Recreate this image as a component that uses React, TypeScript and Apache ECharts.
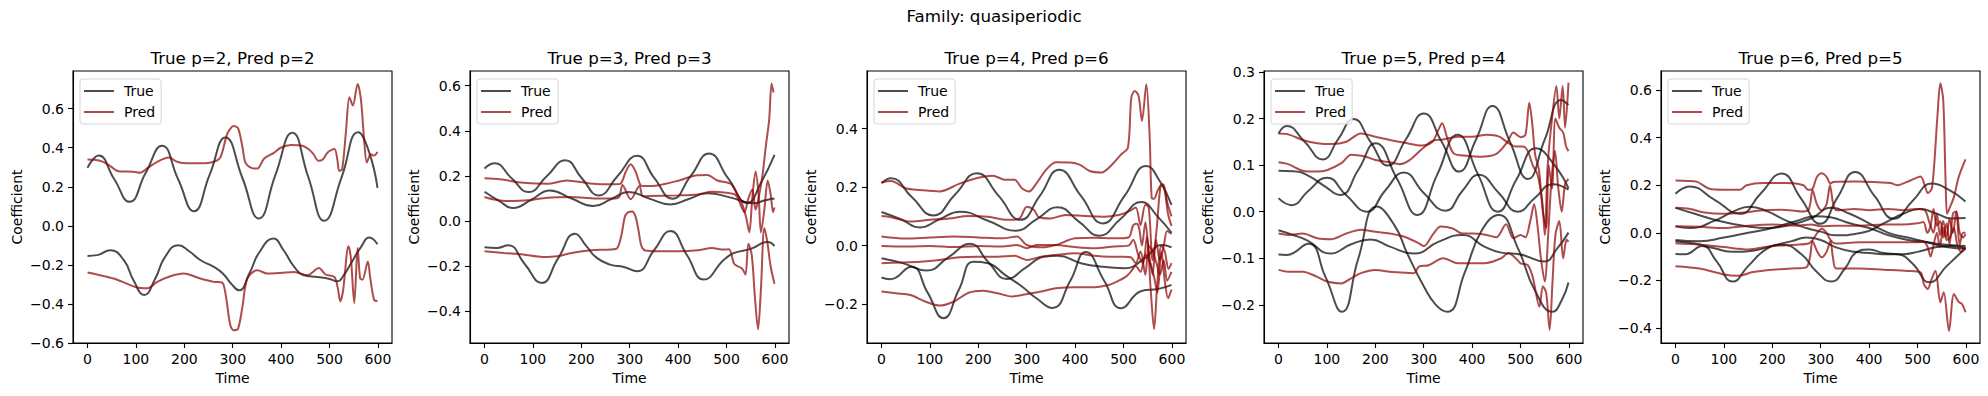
import React, { useEffect, useRef } from 'react';
import * as echarts from 'echarts';

// ---------------- data (time, coefficient) ----------------
const p1True1 = [[0,0.297],[23,0.36],[55,0.24],[87,0.123],[120,0.27],[154,0.41],[187,0.24],[220,0.075],[252,0.26],[285,0.453],[320,0.245],[354,0.038],[388,0.26],[423,0.477],[456,0.25],[489,0.026],[525,0.25],[559,0.479],[580,0.39],[599,0.195]];
const p1True2 = [[0,-0.154],[20,-0.15],[47,-0.125],[75,-0.176],[95,-0.279],[117,-0.354],[140,-0.27],[160,-0.16],[188,-0.099],[210,-0.13],[233,-0.175],[261,-0.21],[280,-0.245],[298,-0.3],[313,-0.33],[335,-0.24],[355,-0.135],[384,-0.065],[405,-0.125],[427,-0.21],[447,-0.253],[475,-0.262],[500,-0.272],[516,-0.284],[530,-0.25],[544,-0.193],[565,-0.108],[582,-0.06],[599,-0.094]];
const p1Pred1 = [[0,0.34],[15,0.338],[30,0.33],[45,0.31],[64,0.28],[95,0.277],[109,0.272],[123,0.294],[144,0.328],[168,0.35],[185,0.328],[206,0.32],[233,0.32],[261,0.328],[275,0.354],[289,0.473],[302,0.511],[311,0.5],[320,0.405],[327,0.32],[344,0.294],[351,0.294],[365,0.345],[385,0.374],[399,0.4],[420,0.414],[444,0.41],[458,0.39],[466,0.37],[477,0.333],[486,0.34],[496,0.376],[510,0.393],[516,0.34],[520,0.281],[526,0.29],[534,0.487],[541,0.658],[548,0.616],[558,0.727],[565,0.641],[572,0.419],[577,0.324],[585,0.367],[592,0.36],[599,0.378]];
const p1Pred2 = [[0,-0.239],[26,-0.253],[54,-0.27],[81,-0.296],[102,-0.316],[123,-0.32],[144,-0.287],[171,-0.258],[199,-0.244],[233,-0.27],[261,-0.287],[278,-0.29],[285,-0.347],[295,-0.509],[302,-0.535],[311,-0.526],[320,-0.415],[330,-0.27],[351,-0.227],[371,-0.244],[399,-0.241],[427,-0.236],[454,-0.253],[478,-0.216],[492,-0.25],[510,-0.262],[517,-0.319],[522,-0.387],[528,-0.33],[539,-0.104],[544,-0.164],[551,-0.396],[558,-0.113],[563,-0.267],[568,-0.276],[579,-0.182],[584,-0.267],[592,-0.379],[599,-0.385]];

const p2True1 = [[0,0.233],[21,0.256],[56,0.19],[91,0.129],[129,0.2],[167,0.27],[201,0.19],[236,0.114],[275,0.2],[315,0.289],[351,0.19],[388,0.099],[426,0.2],[464,0.3],[503,0.19],[543,0.081],[571,0.17],[599,0.293]];
const p2True2 = [[0,0.13],[30,0.09],[59,0.058],[97,0.095],[135,0.136],[180,0.1],[225,0.067],[262,0.098],[298,0.129],[340,0.1],[384,0.074],[422,0.098],[460,0.123],[509,0.104],[554,0.079],[580,0.092],[599,0.1]];
const p2True3 = [[0,-0.116],[25,-0.119],[49,-0.107],[83,-0.19],[118,-0.274],[152,-0.165],[187,-0.056],[210,-0.11],[232,-0.163],[260,-0.193],[288,-0.203],[315,-0.222],[350,-0.13],[384,-0.044],[418,-0.15],[453,-0.259],[495,-0.17],[516,-0.141],[550,-0.123],[585,-0.093],[599,-0.111]];
const p2Pred1 = [[0,0.19],[32,0.185],[80,0.17],[129,0.165],[170,0.18],[218,0.167],[260,0.163],[280,0.165],[292,0.22],[302,0.252],[312,0.22],[322,0.16],[330,0.155],[357,0.158],[398,0.178],[440,0.203],[460,0.204],[481,0.18],[509,0.165],[522,0.12],[530,0.09],[540,0.02],[547,-0.05],[553,0.1],[560,0.22],[566,0.12],[571,-0.05],[578,0.05],[585,0.18],[591,0.12],[596,0.04],[599,0.06]];
const p2Pred2 = [[0,0.107],[20,0.096],[50,0.089],[90,0.092],[130,0.104],[180,0.107],[230,0.1],[270,0.1],[279,0.11],[285,0.16],[302,0.097],[320,0.155],[327,0.11],[340,0.111],[400,0.114],[440,0.118],[470,0.13],[500,0.126],[515,0.12],[522,0.107],[537,0.04],[545,0.1],[553,0.14],[560,0.05],[566,0.1],[574,0.2],[581,0.33],[588,0.45],[593,0.61],[597,0.57]];
const p2Pred3 = [[0,-0.133],[40,-0.141],[80,-0.148],[120,-0.159],[150,-0.156],[180,-0.141],[220,-0.129],[260,-0.126],[274,-0.12],[283,-0.06],[290,0.02],[297,0.04],[305,0.043],[312,0.02],[318,-0.04],[324,-0.11],[332,-0.13],[360,-0.133],[400,-0.133],[440,-0.129],[470,-0.119],[490,-0.126],[505,-0.125],[516,-0.19],[532,-0.21],[539,-0.237],[545,-0.1],[552,-0.15],[559,-0.35],[565,-0.48],[571,-0.3],[578,-0.03],[584,-0.09],[591,-0.2],[599,-0.278]];

const p3True1 = [[0,0.213],[20,0.23],[63,0.165],[107,0.103],[152,0.175],[197,0.247],[242,0.17],[287,0.088],[327,0.17],[367,0.259],[412,0.17],[457,0.076],[502,0.17],[547,0.272],[575,0.22],[599,0.139]];
const p3True2 = [[0,0.115],[40,0.09],[79,0.062],[120,0.09],[162,0.116],[220,0.085],[277,0.051],[320,0.09],[364,0.131],[407,0.083],[450,0.034],[493,0.09],[537,0.149],[570,0.1],[599,0.044]];
const p3True3 = [[0,-0.043],[44,-0.06],[93,-0.085],[138,-0.04],[183,0.006],[220,-0.055],[259,-0.114],[298,-0.075],[336,-0.038],[364,-0.035],[412,-0.06],[454,-0.072],[502,-0.077],[544,-0.043],[579,0.002],[599,-0.006]];
const p3True4 = [[0,-0.109],[17,-0.115],[62,-0.072],[95,-0.16],[128,-0.248],[160,-0.15],[190,-0.055],[220,-0.06],[255,-0.1],[290,-0.14],[320,-0.18],[353,-0.213],[390,-0.12],[422,-0.022],[460,-0.12],[495,-0.214],[537,-0.155],[572,-0.148],[599,-0.134]];
const p3Pred1 = [[0,0.217],[20,0.221],[50,0.196],[80,0.19],[120,0.185],[160,0.211],[200,0.232],[230,0.239],[255,0.225],[275,0.225],[290,0.196],[305,0.185],[320,0.213],[340,0.259],[360,0.285],[390,0.284],[410,0.276],[430,0.255],[455,0.25],[475,0.275],[495,0.312],[509,0.335],[516,0.506],[523,0.529],[531,0.512],[538,0.426],[547,0.552],[554,0.369],[558,0.164],[563,0.16],[570,0.187],[579,0.21],[585,0.187],[592,0.107],[599,0.067]];
const p3Pred2 = [[0,0.101],[20,0.097],[60,0.082],[100,0.088],[140,0.093],[180,0.101],[220,0.099],[260,0.088],[285,0.093],[300,0.133],[315,0.122],[325,0.097],[350,0.093],[380,0.105],[420,0.101],[460,0.099],[490,0.105],[510,0.116],[525,0.13],[535,0.07],[545,0.14],[552,0.13],[560,-0.05],[568,0.05],[576,0.2],[582,0.21],[590,0.15],[599,0.1]];
const p3Pred3 = [[0,0.031],[50,0.024],[100,0.028],[150,0.031],[200,0.028],[250,0.025],[280,0.031],[300,0.002],[330,-0.006],[360,0.002],[400,0.025],[440,0.027],[480,0.025],[510,0.028],[520,0.07],[527,0.075],[532,0.06],[538,0.0],[545,0.08],[552,-0.02],[560,-0.1],[567,0.02],[575,-0.05],[583,0.0],[590,0.05],[599,0.04]];
const p3Pred4 = [[0,-0.001],[50,-0.003],[100,-0.001],[150,-0.005],[200,-0.001],[250,-0.003],[280,0.002],[300,-0.009],[320,0.002],[360,0.002],[400,-0.005],[440,-0.009],[480,-0.003],[510,0.0],[520,0.02],[530,-0.03],[540,-0.06],[548,0.03],[556,-0.15],[563,-0.286],[570,-0.12],[578,0.0],[585,-0.02],[593,-0.08],[599,-0.06]];
const p3Pred5 = [[0,-0.06],[40,-0.058],[80,-0.055],[120,-0.049],[160,-0.04],[200,-0.038],[240,-0.038],[275,-0.035],[300,-0.049],[330,-0.038],[360,-0.032],[400,-0.026],[440,-0.035],[470,-0.038],[500,-0.038],[515,-0.04],[525,-0.06],[535,-0.02],[545,-0.1],[552,0.0],[560,-0.02],[568,-0.06],[575,-0.1],[583,-0.05],[590,-0.12],[599,-0.09]];
const p3Pred6 = [[0,-0.157],[30,-0.163],[60,-0.169],[90,-0.191],[120,-0.205],[150,-0.191],[180,-0.161],[210,-0.154],[240,-0.163],[270,-0.174],[290,-0.169],[310,-0.163],[330,-0.157],[360,-0.146],[400,-0.142],[440,-0.142],[470,-0.134],[490,-0.12],[505,-0.106],[515,-0.089],[525,-0.07],[535,-0.09],[545,-0.03],[555,-0.06],[562,-0.1],[570,-0.16],[578,-0.02],[585,-0.12],[592,-0.18],[599,-0.15]];

const p4True1 = [[0,0.168],[17,0.184],[54,0.15],[91,0.112],[123,0.155],[155,0.199],[190,0.15],[226,0.099],[263,0.155],[300,0.211],[337,0.15],[373,0.086],[408,0.155],[442,0.227],[478,0.15],[515,0.07],[550,0.155],[584,0.24],[599,0.229]];
const p4True2 = [[0,0.088],[30,0.087],[60,0.078],[95,0.055],[127,0.036],[165,0.09],[200,0.147],[245,0.07],[287,-0.007],[328,0.08],[370,0.165],[412,0.08],[453,0.0],[492,0.07],[532,0.136],[570,0.1],[599,0.05]];
const p4True3 = [[0,0.029],[27,0.014],[62,0.045],[100,0.073],[140,0.035],[183,0.0],[220,0.045],[259,0.084],[300,0.04],[345,0.002],[380,0.045],[414,0.079],[455,0.04],[494,0.0],[530,0.03],[567,0.059],[599,0.047]];
const p4True4 = [[0,-0.04],[30,-0.05],[60,-0.062],[107,-0.09],[150,-0.07],[190,-0.06],[230,-0.075],[280,-0.09],[330,-0.065],[380,-0.05],[425,-0.075],[460,-0.088],[500,-0.092],[549,-0.107],[575,-0.08],[599,-0.045]];
const p4True5 = [[0,-0.092],[17,-0.093],[62,-0.069],[97,-0.14],[131,-0.215],[165,-0.1],[203,0.011],[240,-0.03],[266,-0.09],[300,-0.16],[325,-0.2],[349,-0.215],[385,-0.13],[420,-0.04],[455,-0.007],[495,-0.08],[530,-0.17],[566,-0.215],[585,-0.19],[599,-0.152]];
const p4Pred1 = [[0,0.168],[20,0.166],[50,0.154],[80,0.147],[110,0.145],[140,0.15],[170,0.168],[200,0.161],[230,0.154],[260,0.148],[297,0.142],[318,0.15],[330,0.175],[338,0.19],[348,0.16],[362,0.125],[390,0.12],[417,0.118],[450,0.124],[473,0.15],[485,0.17],[500,0.16],[510,0.165],[518,0.234],[524,0.19],[530,0.123],[538,0.09],[546,0.0],[553,-0.035],[558,0.1],[565,0.05],[572,0.2],[580,0.18],[588,0.17],[594,0.14],[599,0.13]];
const p4Pred2 = [[0,0.106],[20,0.102],[50,0.088],[80,0.086],[100,0.089],[130,0.104],[150,0.122],[180,0.118],[200,0.111],[230,0.106],[250,0.102],[270,0.11],[297,0.135],[318,0.152],[340,0.155],[370,0.161],[400,0.161],[430,0.165],[456,0.161],[475,0.147],[490,0.14],[505,0.14],[515,0.13],[525,0.1],[535,0.08],[545,0.02],[550,-0.05],[556,0.1],[565,0.2],[574,0.27],[580,0.2],[587,0.27],[592,0.18],[599,0.277]];
const p4Pred3 = [[0,-0.047],[20,-0.05],[50,-0.047],[80,-0.057],[110,-0.059],[140,-0.047],[170,-0.039],[200,-0.043],[230,-0.047],[260,-0.054],[290,-0.068],[300,-0.074],[320,-0.047],[335,-0.032],[360,-0.036],[380,-0.047],[400,-0.047],[430,-0.05],[450,-0.055],[470,-0.027],[485,-0.057],[500,-0.05],[510,-0.055],[520,-0.02],[528,0.016],[535,-0.03],[542,-0.1],[550,-0.15],[557,-0.05],[564,0.07],[571,0.13],[578,0.05],[585,0.0],[592,0.06],[599,0.07]];
const p4Pred4 = [[0,-0.125],[20,-0.129],[50,-0.129],[80,-0.14],[100,-0.15],[130,-0.154],[150,-0.143],[170,-0.132],[200,-0.125],[230,-0.129],[260,-0.131],[280,-0.132],[290,-0.118],[310,-0.115],[340,-0.1],[350,-0.103],[370,-0.111],[400,-0.111],[430,-0.11],[460,-0.1],[475,-0.089],[490,-0.1],[500,-0.111],[515,-0.115],[525,-0.14],[539,-0.204],[546,-0.16],[553,-0.175],[560,-0.254],[566,-0.15],[572,-0.05],[580,-0.02],[588,-0.1],[595,-0.06],[599,-0.065]];

const p5True1 = [[0,0.164],[29,0.195],[80,0.14],[133,0.08],[176,0.165],[219,0.249],[259,0.145],[299,0.038],[335,0.15],[371,0.256],[411,0.155],[451,0.059],[490,0.135],[530,0.207],[565,0.18],[599,0.132]];
const p5True2 = [[0,0.105],[40,0.08],[90,0.05],[140,0.03],[190,0.02],[230,0.03],[280,0.06],[322,0.105],[360,0.08],[400,0.04],[440,0.0],[480,-0.02],[520,-0.04],[560,-0.06],[599,-0.067]];
const p5True3 = [[0,0.027],[30,0.02],[80,0.05],[120,0.09],[153,0.11],[190,0.09],[230,0.05],[270,0.02],[300,0.005],[330,-0.01],[385,0.0],[430,0.04],[470,0.08],[505,0.1],[540,0.08],[570,0.06],[599,0.062]];
const p5True4 = [[0,-0.03],[50,-0.035],[100,-0.02],[150,0.0],[200,0.02],[250,0.05],[290,0.07],[320,0.065],[360,0.04],[400,0.02],[440,-0.01],[480,-0.03],[520,-0.04],[560,-0.05],[599,-0.055]];
const p5True5 = [[0,-0.035],[40,-0.045],[80,-0.065],[120,-0.08],[160,-0.075],[200,-0.055],[240,-0.035],[270,-0.02],[300,-0.03],[330,-0.06],[370,-0.08],[400,-0.085],[440,-0.09],[470,-0.09],[500,-0.08],[540,-0.06],[570,-0.055],[599,-0.065]];
const p5True6 = [[0,-0.089],[20,-0.09],[55,-0.055],[85,-0.12],[118,-0.205],[150,-0.14],[190,-0.065],[220,-0.05],[260,-0.09],[290,-0.16],[322,-0.205],[350,-0.15],[375,-0.08],[400,-0.07],[430,-0.085],[460,-0.09],[490,-0.13],[525,-0.208],[560,-0.14],[599,-0.065]];
const p5Pred1 = [[0,0.22],[25,0.218],[45,0.214],[70,0.185],[100,0.181],[133,0.181],[147,0.2],[181,0.209],[230,0.209],[264,0.2],[274,0.181],[283,0.185],[292,0.235],[302,0.25],[312,0.235],[320,0.207],[326,0.214],[375,0.216],[444,0.209],[458,0.2],[485,0.22],[506,0.237],[516,0.192],[521,0.167],[530,0.19],[541,0.49],[547,0.628],[553,0.558],[558,0.207],[561,0.08],[567,0.108],[575,0.15],[585,0.235],[599,0.309]];
const p5Pred2 = [[0,0.105],[30,0.1],[60,0.085],[100,0.08],[140,0.085],[180,0.095],[220,0.097],[260,0.09],[274,0.095],[279,0.13],[283,0.18],[292,0.12],[302,0.094],[312,0.12],[319,0.2],[325,0.13],[332,0.095],[370,0.1],[400,0.095],[440,0.1],[470,0.095],[500,0.1],[515,0.095],[525,0.04],[533,0.0],[540,0.08],[546,-0.01],[553,0.05],[560,-0.02],[566,0.06],[573,0.0],[580,0.09],[587,-0.05],[594,0.0],[599,0.0]];
const p5Pred3 = [[0,0.028],[50,0.025],[100,0.02],[150,0.03],[200,0.035],[250,0.03],[280,0.035],[300,0.028],[330,0.03],[380,0.03],[430,0.035],[470,0.035],[500,0.04],[512,0.045],[520,0.0],[527,0.03],[533,0.1],[540,0.03],[547,0.05],[553,-0.02],[560,0.04],[566,-0.05],[573,0.08],[580,0.09],[587,0.0],[594,-0.02],[599,-0.005]];
const p5Pred4 = [[0,-0.044],[50,-0.05],[100,-0.06],[150,-0.07],[200,-0.055],[250,-0.05],[275,-0.045],[283,-0.03],[293,0.0],[302,0.017],[312,0.0],[320,-0.03],[330,-0.045],[380,-0.04],[430,-0.04],[480,-0.04],[500,-0.04],[510,-0.035],[520,-0.055],[527,-0.1],[533,-0.05],[540,0.0],[546,-0.06],[553,0.02],[560,-0.03],[567,-0.02],[575,0.02],[582,-0.05],[590,-0.08],[599,-0.06]];
const p5Pred5 = [[0,-0.14],[50,-0.15],[100,-0.175],[130,-0.18],[160,-0.165],[200,-0.155],[240,-0.15],[270,-0.145],[278,-0.1],[283,-0.035],[293,-0.08],[302,-0.103],[312,-0.08],[320,-0.035],[325,-0.1],[332,-0.15],[380,-0.15],[430,-0.155],[480,-0.16],[506,-0.166],[513,-0.215],[521,-0.236],[528,-0.2],[537,-0.159],[547,-0.292],[554,-0.25],[565,-0.412],[575,-0.257],[585,-0.29],[592,-0.3],[599,-0.334]];

const suptitle = 'Family: quasiperiodic';
const titles = ['True p=2, Pred p=2', 'True p=3, Pred p=3', 'True p=4, Pred p=6', 'True p=5, Pred p=4', 'True p=6, Pred p=5'];
const trueLines = [[p1True1, p1True2], [p2True1, p2True2, p2True3], [p3True1, p3True2, p3True3, p3True4], [p4True1, p4True2, p4True3, p4True4, p4True5], [p5True1, p5True2, p5True3, p5True4, p5True5, p5True6]];
const predLines = [[p1Pred1, p1Pred2], [p2Pred1, p2Pred2, p2Pred3], [p3Pred1, p3Pred2, p3Pred3, p3Pred4, p3Pred5, p3Pred6], [p4Pred1, p4Pred2, p4Pred3, p4Pred4], [p5Pred1, p5Pred2, p5Pred3, p5Pred4, p5Pred5]];
const xTicks = [0, 100, 200, 300, 400, 500, 600];
const yTicks = [
  [-0.6, -0.4, -0.2, 0, 0.2, 0.4, 0.6],
  [-0.4, -0.2, 0, 0.2, 0.4, 0.6],
  [-0.2, 0, 0.2, 0.4],
  [-0.2, -0.1, 0, 0.1, 0.2, 0.3],
  [-0.4, -0.2, 0, 0.2, 0.4, 0.6],
];
const yRanges = [[-0.6, 0.793], [-0.54, 0.665], [-0.333, 0.597], [-0.282, 0.302], [-0.463, 0.68]];
const xRange = [-29.95, 628.95];

// ---------------- layout / style ----------------
const FONT = 'DejaVu Sans';
const GRID_LEFT = [73, 470, 867, 1264, 1661];
const GRID_W = 319;
const GRID_TOP = 71;
const GRID_H = 272;
const TRUE_COLOR = 'rgba(0,0,0,0.7)';
const PRED_COLOR = 'rgba(139,0,0,0.7)';

const fmtY = (v: number) => (v < 0 ? '\u2212' : '') + Math.abs(v).toFixed(1);

export default function App() {
  const ref = useRef<HTMLDivElement>(null);
  useEffect(() => {
    if (!ref.current) return;
    const chart = echarts.init(ref.current, null, { renderer: 'svg' });
    const grids: any[] = [];
    const xAxes: any[] = [];
    const yAxes: any[] = [];
    const series: any[] = [];
    const legends: any[] = [];
    const graphics: any[] = [
      { type: 'text', left: 'center', top: 7, style: { text: suptitle, font: `16.7px "${FONT}"`, fill: '#000' } },
    ];
    for (let i = 0; i < 5; i++) {
      grids.push({ left: GRID_LEFT[i], top: GRID_TOP, width: GRID_W, height: GRID_H, show: true, borderColor: '#000', borderWidth: 1.1, backgroundColor: 'transparent' });
      xAxes.push({
        type: 'value', gridIndex: i, min: xRange[0], max: xRange[1],
        name: 'Time', nameLocation: 'middle', nameGap: 28,
        nameTextStyle: { fontFamily: FONT, fontSize: 14, color: '#000' },
        axisLine: { show: true, onZero: false, lineStyle: { color: '#000', width: 1.1 } },
        axisTick: { show: true, length: 5, customValues: xTicks, lineStyle: { color: '#000', width: 1.1 } },
        axisLabel: { customValues: xTicks, fontFamily: FONT, fontSize: 14, color: '#000', margin: 9, formatter: (v: number) => String(Math.round(v)) },
        splitLine: { show: false },
      });
      yAxes.push({
        type: 'value', gridIndex: i, min: yRanges[i][0], max: yRanges[i][1],
        name: 'Coefficient', nameLocation: 'middle', nameGap: 49,
        nameTextStyle: { fontFamily: FONT, fontSize: 14, color: '#000' },
        axisLine: { show: true, onZero: false, lineStyle: { color: '#000', width: 1.1 } },
        axisTick: { show: true, length: 5, customValues: yTicks[i], lineStyle: { color: '#000', width: 1.1 } },
        axisLabel: { customValues: yTicks[i], fontFamily: FONT, fontSize: 14, color: '#000', margin: 9, formatter: fmtY },
        splitLine: { show: false },
      });
      trueLines[i].forEach((d) => {
        series.push({ type: 'line', name: 'True', xAxisIndex: i, yAxisIndex: i, data: d, smooth: 0.5, showSymbol: false, symbol: 'none', silent: true, color: TRUE_COLOR, lineStyle: { color: TRUE_COLOR, width: 2 }, itemStyle: { color: TRUE_COLOR } });
      });
      predLines[i].forEach((d) => {
        series.push({ type: 'line', name: 'Pred', xAxisIndex: i, yAxisIndex: i, data: d, smooth: 0.3, showSymbol: false, symbol: 'none', silent: true, color: PRED_COLOR, lineStyle: { color: PRED_COLOR, width: 2 }, itemStyle: { color: PRED_COLOR } });
      });
      legends.push({
        left: GRID_LEFT[i] + 7, top: 79, orient: 'vertical', selectedMode: false,
        data: [{ name: 'True', icon: 'rect', itemStyle: { color: TRUE_COLOR } }, { name: 'Pred', icon: 'rect', itemStyle: { color: PRED_COLOR } }],
        itemWidth: 30, itemHeight: 2, itemGap: 5, padding: [4, 6, 4, 4],
        borderColor: '#d5d5d5', borderWidth: 1, borderRadius: 3, backgroundColor: 'rgba(255,255,255,0.8)',
        textStyle: { fontFamily: FONT, fontSize: 14, color: '#000', lineHeight: 16, padding: [0, 0, 0, 5] },
      });
      graphics.push({ type: 'text', x: GRID_LEFT[i] + GRID_W / 2, y: 58, style: { text: titles[i], font: `16.7px "${FONT}"`, fill: '#000', textAlign: 'center', textVerticalAlign: 'middle' } });
    }
    chart.setOption({
      animation: false,
      backgroundColor: '#fff',
      grid: grids, xAxis: xAxes, yAxis: yAxes, series, legend: legends, graphic: graphics,
    });
    return () => chart.dispose();
  }, []);
  return <div ref={ref} style={{ position: 'absolute', left: 0, top: 0, width: 1988, height: 396, background: '#fff' }} />;
}
